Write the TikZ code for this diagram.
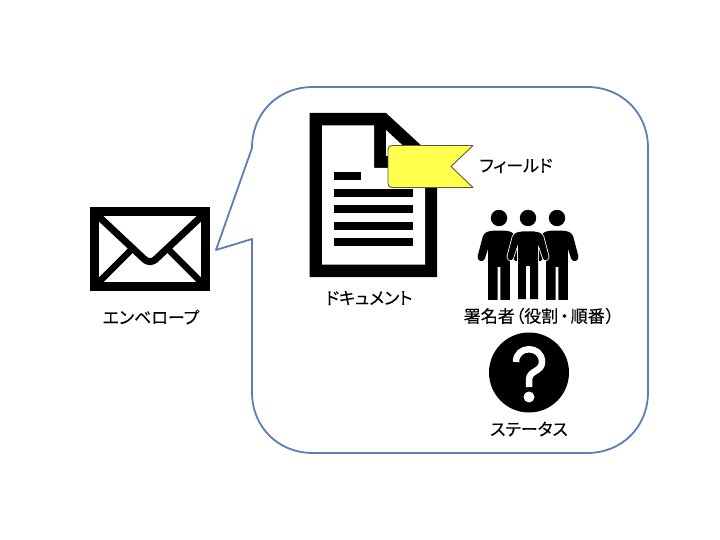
\documentclass[tikz,border=0pt]{standalone}
\usepackage{fontspec}
\setmainfont[RawFeature=+palt, FakeBold=0.1]{Noto Sans CJK JP}
\usepackage{tikz}
\usetikzlibrary{shapes.geometric, arrows}
\tikzstyle{caption} = [inner sep=0pt, text=black, font=\fontsize{17}{20}\selectfont]
\tikzstyle{balloon} = [draw=ballooncolor, line width=1.8pt, fill=white, line join=round]
\tikzstyle{envline} = [draw=black, line width=7pt, line join=round]
\tikzstyle{textbar} = [rectangle, fill=black, minimum height=8pt, inner sep=0pt]
\tikzstyle{flag} = [draw=flagedge, fill=flagcolor, line width=0.9pt, line join=round]
\definecolor{ballooncolor}{HTML}{5B7DB8}
\definecolor{flagcolor}{HTML}{FFFF4D}
\definecolor{flagedge}{HTML}{5A5A40}
\newcommand{\personshape}[2]{
\begin{scope}[shift={(#1,0)}]
\fill [black] (0,218) circle (8.2);
\path [fill=black, preaction={draw=#2, line width=1.6pt}, line join=round] (-6,231.5) -- (6,231.5) .. controls (11,232) and (14,233) .. (15.5,237)
 -- (20.5,256) .. controls (21.5,260) and (16.5,262) .. (15,258.5) -- (10.5,245) -- (10,245) -- (10,299) -- (2.2,299) -- (2.2,266) -- (-2.2,266) -- (-2.2,299) -- (-10,299)
 -- (-10,245) -- (-10.5,245) -- (-15,258.5) .. controls (-16.5,262) and (-21.5,260) .. (-20.5,256) -- (-15.5,237) .. controls (-14,233) and (-11,232) .. (-6,231.5) -- cycle;
\end{scope}
}
\begin{document}
\begin{tikzpicture}[x=1pt, y=-1pt]
\useasboundingbox (0,0) rectangle (720,540);
% balloon
\draw [balloon] (252,148) .. controls (252,113) and (278,87) .. (313,87) -- (587,87) .. controls (622,87) and (648,113) .. (648,148)
 -- (648,392) .. controls (648,427) and (622,453) .. (587,453) -- (313,453) .. controls (278,453) and (252,427) .. (252,392) -- (252,239) -- (216,250) -- cycle;
% envelope
\fill [black] (90,207) rectangle (209.5,291);
\fill [white] (99,216.5) rectangle (200.5,282);
\draw [envline] (96,214) -- (143,258) .. controls (148,263) and (152,263) .. (157,258) -- (204,214);
\draw [envline, line width=6.5pt] (96,285) -- (131,250);
\draw [envline, line width=6.5pt] (204,285) -- (169,250);
\node (envelopetext) [caption] at (151,317) {エンベロープ};
% document
\fill [black] (309.5,113) -- (386,113) -- (437,160) -- (437,277) -- (309.5,277) -- cycle;
\fill [white] (322,125.5) -- (374,125.5) -- (374,168) -- (425,168) -- (425,264.5) -- (322,264.5) -- cycle;
\fill [white] (386,130) -- (386,156) -- (414,156) -- cycle;
\node (bar0) [textbar, minimum width=27pt] at (347.5,176) {};
\foreach \y in {193,209,226,242} {
\node [textbar, minimum width=79pt] at (373.5,\y) {};
}
\node (documenttext) [caption] at (369,298) {ドキュメント};
% field
\draw [flag] (392,145.5) -- (473,145.5) -- (451,166.5) -- (473,187.5) -- (392,187.5) .. controls (389.5,187.5) and (388,186) .. (388,183.5) -- (388,149.5) .. controls (388,147) and (389.5,145.5) .. (392,145.5) -- cycle;
\node (fieldtext) [caption] at (516,166) {フィールド};
% signers
\personshape{499}{black}
\personshape{557}{black}
\personshape{528}{white}
\node (signertext) [caption] at (539,316) {署名者\hspace{1pt}（役割\hspace{2pt}・\hspace{2pt}順番\hspace{1pt}）};
% status
\fill [black] (529,372.5) circle (40);
\draw [white, line width=6.5pt] (516,362) .. controls (516,345) and (542,345) .. (542,362) .. controls (542,372) and (529,370) .. (529,380) -- (529,387);
\fill [white] (529,397) circle (5.5);
\node (statustext) [caption] at (529,429) {ステータス};
\end{tikzpicture}
\end{document}
